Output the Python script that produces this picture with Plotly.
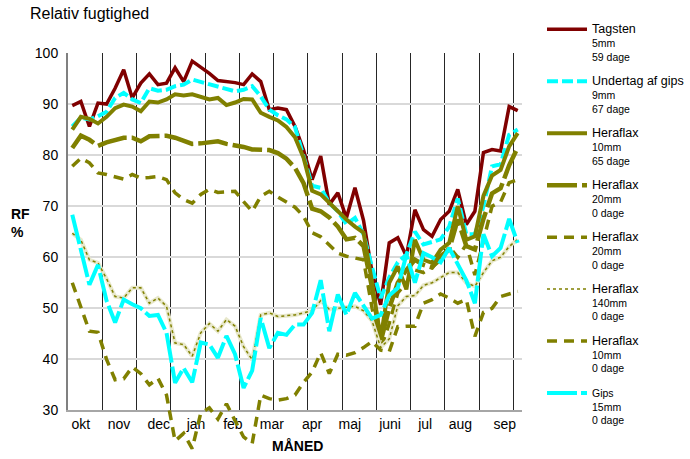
import plotly.graph_objects as go

# weekly measurements, okt -> sep (53 weeks)
weeks = list(range(1, 54))

tagsten = [89.7, 90.5, 85.6, 90.2, 90.0, 93.1, 96.7, 91.2, 94.1, 95.9,
           93.8, 94.1, 97.1, 94.4, 98.4, 97.3, 96.0, 94.6, 94.4, 94.2,
           93.8, 95.9, 94.4, 88.9, 89.2, 88.9, 85.6, 81.0, 75.2, 79.8,
           70.3, 72.6, 67.7, 73.6, 67.2, 57.0, 50.7, 62.8, 63.8, 60.2,
           69.3, 65.4, 64.1, 67.4, 69.0, 73.3, 66.4, 69.0, 80.5, 81.1,
           80.8, 89.5, 88.7]

undertag = [85.6, 87.3, 87.0, 87.6, 88.5, 91.2, 92.2, 90.9, 90.2, 93.1,
            92.6, 92.8, 93.5, 93.8, 94.8, 94.3, 93.8, 93.3, 92.8, 92.5,
            92.8, 93.5, 91.5, 88.9, 87.8, 87.0, 85.5, 80.0, 74.0, 73.6,
            70.6, 69.0, 66.5, 67.7, 64.5, 58.0, 52.0, 56.0, 59.0, 60.5,
            65.0, 62.5, 63.0, 63.5, 66.0, 71.5, 64.5, 64.5, 70.0, 77.8,
            78.2, 84.0, 85.0]

heraflax_10 = [85.0, 87.5, 87.1, 86.2, 87.5, 89.2, 89.9, 89.5, 88.6, 90.5,
               90.3, 90.9, 91.9, 91.7, 91.9, 91.4, 90.9, 91.2, 89.8, 90.3,
               91.0, 90.9, 88.3, 87.5, 86.8, 85.5, 83.5, 79.5, 73.0, 72.3,
               70.6, 69.0, 67.4, 66.0, 64.8, 55.0, 44.0, 55.0, 58.2, 53.7,
               63.4, 59.5, 58.9, 61.5, 62.8, 70.0, 63.4, 64.1, 72.0, 76.0,
               77.1, 81.7, 84.3]

heraflax_20_long = [81.4, 83.8, 83.0, 81.8, 82.5, 83.0, 83.4, 83.4, 82.7, 83.7,
                    83.8, 83.8, 83.4, 82.7, 82.2, 82.3, 82.6, 82.7, 82.2, 82.0,
                    81.6, 81.1, 81.1, 81.0, 80.4, 79.3, 77.5, 74.5, 69.5, 69.0,
                    67.8, 66.0, 63.5, 63.8, 62.2, 54.0, 43.5, 50.0, 55.0, 57.5,
                    59.5, 58.5, 58.0, 60.2, 61.5, 67.4, 62.2, 61.5, 67.5, 72.5,
                    73.5, 78.0, 81.5]

heraflax_20_dash = [77.8, 79.4, 78.5, 76.5, 76.2, 75.8, 75.3, 76.2, 75.5, 75.6,
                    75.8, 75.2, 72.6, 71.3, 70.6, 72.3, 73.3, 72.7, 72.8, 72.9,
                    70.9, 69.0, 71.9, 72.9, 71.8, 70.8, 69.8, 68.0, 64.8, 64.0,
                    62.5, 60.8, 60.2, 59.9, 59.5, 50.0, 42.0, 47.0, 53.0, 55.0,
                    57.5, 57.0, 58.0, 59.5, 62.0, 60.0, 62.5, 56.5, 63.0, 70.0,
                    70.8, 74.6, 75.2]

heraflax_140 = [64.7, 63.4, 59.5, 58.9, 55.8, 52.3, 52.0, 54.0, 54.0, 51.0,
                52.0, 50.4, 43.2, 42.9, 40.6, 45.2, 47.0, 45.5, 47.8, 46.5,
                42.5, 39.9, 48.7, 49.1, 48.4, 48.6, 48.7, 49.1, 49.5, 51.5,
                49.8, 50.0, 50.2, 50.4, 49.5, 47.5, 42.3, 44.0, 50.5, 52.3,
                52.5, 54.5, 55.0, 56.0, 57.0, 57.0, 55.0, 54.3, 57.0, 59.3,
                60.0, 62.1, 63.5]

heraflax_10_dash = [55.0, 50.0, 45.5, 45.3, 40.0, 36.0, 36.2, 38.5, 37.2, 35.0,
                    36.3, 33.0, 24.0, 25.5, 22.5, 29.5, 30.5, 28.3, 31.3, 28.0,
                    24.8, 23.5, 33.0, 32.3, 32.0, 32.3, 33.0, 35.5, 37.5, 41.3,
                    37.2, 41.0, 40.8, 41.3, 42.3, 43.5, 41.8, 41.5, 46.4, 46.5,
                    46.5, 51.0, 51.7, 52.8, 52.0, 51.0, 51.7, 44.5, 49.2, 50.0,
                    52.3, 52.8, 53.3]

gips = [68.3, 61.5, 54.6, 58.5, 51.5, 47.2, 51.7, 50.8, 50.0, 48.5,
        48.7, 45.2, 35.4, 38.3, 35.5, 43.3, 42.9, 40.3, 44.6, 41.0,
        34.4, 37.8, 48.1, 42.2, 45.2, 44.8, 46.8, 46.8, 49.1, 55.5,
        45.5, 52.7, 48.7, 53.0, 50.5, 48.0, 48.7, 52.5, 54.0, 60.5,
        55.0, 60.8, 60.0, 59.0, 61.8, 58.5, 55.5, 51.0, 64.5, 60.2,
        61.8, 67.5, 62.8]

months = ["okt", "nov", "dec", "jan", "feb", "mar", "apr", "maj", "juni", "jul", "aug", "sep"]
month_pos = [2.0, 6.45, 11.1, 15.45, 19.75, 24.3, 29.0, 33.4, 38.1, 42.2, 46.3, 51.5]
grid_weeks = [4.5, 8.5, 12.5, 16.5, 20.5, 24.5, 28.5, 32.5, 36.5, 40.5, 44.5, 48.5, 52.5]

FONT = "Liberation Sans, Arial, sans-serif"
OLIVE = "#808000"
CYAN = "#00FFFF"


def name(title, size, days, big=True):
    first = f"<span style='font-size:12.5px'>{title}</span>" if big else title
    return f"{first}<br>{size}<br>{days}"


series = [
    (name("Tagsten", "5mm", "59 dage"), tagsten, "#800000", 3.5, "solid"),
    (name("Undertag af gips", "9mm", "67 dage"), undertag, CYAN, 4, "11px,4px"),
    (name("Heraflax", "10mm", "65 dage"), heraflax_10, OLIVE, 4, "solid"),
    (name("Heraflax", "20mm", "0 dage"), heraflax_20_long, OLIVE, 4.5, "30px,5px"),
    (name("Heraflax", "20mm", "0 dage"), heraflax_20_dash, OLIVE, 3.5, "10px,7px"),
    (name("Heraflax", "140mm", "0 dage"), heraflax_140, OLIVE, 1.5, "dot"),
    (name("Heraflax", "10mm", "0 dage"), heraflax_10_dash, OLIVE, 3.5, "10px,7px"),
    (name("Gips", "15mm", "0 dage", big=False), gips, CYAN, 4, "30px,4px"),
]

fig = go.Figure()

# empty trace so the framed (30..100) subplot with grid and ticks is drawn
fig.add_trace(go.Scatter(x=[None], y=[None], xaxis="x", yaxis="y",
                         showlegend=False, hoverinfo="skip"))

for k, (label, vals, color, width, dash) in enumerate(series):
    if vals is heraflax_140:
        # pale body of the dotted line
        fig.add_trace(go.Scatter(
            x=weeks, y=vals, mode="lines", xaxis="x2", yaxis="y2",
            line=dict(color="#e8e8cc", width=4), showlegend=False,
            hoverinfo="skip", legendgroup=f"g{k}"
        ))
    fig.add_trace(go.Scatter(
        x=weeks, y=vals, mode="lines", name=label,
        xaxis="x2", yaxis="y2", legendgroup=f"g{k}",
        line=dict(color=color, width=width, dash=dash)
    ))

# visible axes: 30..100 only; the data subplot reaches further down (no clipping at 30)
y_bottom = 0.11315
y2_min = 100 - 70 / (1 - y_bottom)

fig.update_layout(
    width=690, height=459,
    margin=dict(l=68, r=168, t=53, b=3, autoexpand=False),
    paper_bgcolor="white", plot_bgcolor="rgba(0,0,0,0)",
    font=dict(family=FONT, color="black"),
    title=dict(text="Relativ fugtighed", font=dict(size=16, color="black"),
               x=30 / 690, xanchor="left", xref="container",
               y=0.982, yanchor="top", yref="container"),
    xaxis=dict(domain=[0, 1], range=[0.5, 53.5], anchor="y",
               tickmode="array", tickvals=month_pos, ticktext=months,
               showgrid=False, zeroline=False, ticks="",
               tickfont=dict(size=14),
               showline=True, linecolor="#a6a6a6", linewidth=2,
               minor=dict(tickmode="array", tickvals=grid_weeks, showgrid=True,
                          gridcolor="#262626", gridwidth=1, ticks="")),
    yaxis=dict(domain=[y_bottom, 1], range=[30, 100], anchor="x",
               tickmode="linear", tick0=30, dtick=10,
               showgrid=True, gridcolor="#d9d9d9", gridwidth=2,
               zeroline=False, ticks="", tickfont=dict(size=14),
               ticklabelstandoff=5,
               showline=True, linecolor="#808080", linewidth=2),
    xaxis2=dict(domain=[0, 1], range=[0.5, 53.5], anchor="y2", visible=False),
    yaxis2=dict(domain=[0, 1], range=[y2_min, 100], anchor="x2", visible=False),
    legend=dict(x=(542 - 68) / 454, xanchor="left", y=(456 - 16) / 403, yanchor="top",
                font=dict(size=10.5, family=FONT), tracegroupgap=8, itemwidth=40,
                valign="top", bgcolor="rgba(0,0,0,0)", traceorder="grouped",
                maxheight=455),
    showlegend=True,
    annotations=[
        dict(text="<b>RF<br>%</b>", xref="paper", yref="paper",
             x=(9 - 68) / 454, y=(456 - 223) / 403, xanchor="left", yanchor="middle",
             align="left", showarrow=False, font=dict(size=14)),
        dict(text="<b>MÅNED</b>", xref="paper", yref="paper",
             x=(297 - 68) / 454, y=(456 - 446) / 403, xanchor="center", yanchor="middle",
             showarrow=False, font=dict(size=14)),
    ],
)

# the page body's default margin would shift the figure by 8px
fig.write_html("out.html", config={"displayModeBar": False},
               post_script="document.body.style.margin='0';")
